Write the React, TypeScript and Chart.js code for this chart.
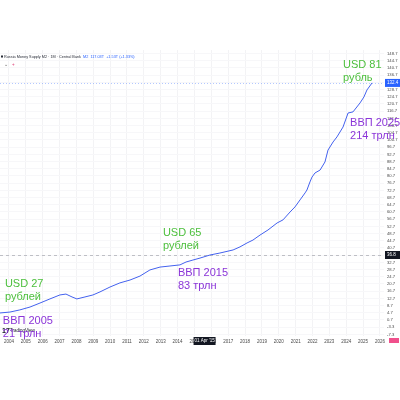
import { useEffect, useRef } from "react";
import { Chart, registerables } from "chart.js";

Chart.register(...registerables);

// Russia Money Supply M2 (trillion RUB)
const years = [
  2003.47, 2004.06, 2004.65, 2005.25, 2005.84, 2006.43, 2007.02, 2007.38, 2007.74, 2008.03,
  2008.51, 2008.98, 2009.4, 2009.99, 2010.58, 2011.18, 2011.77, 2012.36, 2012.96, 2013.55,
  2014.14, 2014.5, 2014.91, 2015.33, 2015.92, 2016.51, 2017.29, 2017.7, 2018.12, 2018.47,
  2018.89, 2019.36, 2019.9, 2020.25, 2020.67, 2020.96, 2021.26, 2021.56, 2021.67, 2021.85,
  2021.97, 2022.15, 2022.45, 2022.74, 2022.92, 2023.22, 2023.45, 2023.81, 2024.11, 2024.4,
  2024.82, 2025.05, 2025.23, 2025.53,
];
const m2 = [
  4.6, 5.1, 6.3, 7.9, 10.1, 12.4, 14.6, 15.1, 13.5, 12.4,
  13.5, 14.6, 16.3, 19.0, 21.3, 22.9, 25.1, 28.5, 30.1, 30.7,
  31.3, 32.9, 34.0, 35.1, 36.8, 37.9, 39.6, 41.3, 43.5, 45.1,
  47.9, 50.7, 54.6, 56.3, 60.7, 63.5, 67.4, 71.3, 72.9, 77.4,
  80.1, 82.4, 84.0, 88.5, 95.1, 99.6, 102.4, 107.9, 115.7, 116.3,
  121.3, 124.6, 128.5, 132.4,
];

const xTickYears = [
  2004, 2005, 2006, 2007, 2008, 2009, 2010, 2011, 2012, 2013, 2014, 2015,
  2016, 2017, 2018, 2019, 2020, 2021, 2022, 2023, 2024, 2025, 2026,
];
const yTickValues = [
  -7.3, -3.3, 0.7, 4.7, 8.7, 12.7, 16.7, 20.7, 24.7, 28.7, 32.7, 36.7, 40.7, 44.7,
  48.7, 52.7, 56.7, 60.7, 64.7, 68.7, 72.7, 76.7, 80.7, 84.7, 88.7, 92.7, 96.7,
  100.7, 104.7, 108.7, 112.7, 116.7, 120.7, 124.7, 128.7, 132.7, 136.7, 140.7,
  144.7, 148.7,
];

const crosshairYear = 2015.6;
const crosshairValue = 36.8;
const crosshairDateLabel = "01 Apr '15";

const GREEN = "#4cbf3c";
const PURPLE = "#8b35d8";

type Note = { lines: string[]; color: string; year: number; value: number };
const notes: Note[] = [
  { lines: ["USD 27", "рублей"], color: GREEN, year: 2003.76, value: 20.7 },
  { lines: ["ВВП 2005", "21 трлн"], color: PURPLE, year: 2003.64, value: 0.14 },
  { lines: ["USD 65", "рублей"], color: GREEN, year: 2013.13, value: 49.0 },
  { lines: ["ВВП 2015", "83 трлн"], color: PURPLE, year: 2014.02, value: 26.8 },
  { lines: ["USD 81", "рубль"], color: GREEN, year: 2023.81, value: 142.4 },
  { lines: ["ВВП 2025", "214 трлн"], color: PURPLE, year: 2024.23, value: 110.1 },
];

const FONT = "'Liberation Sans', Arial, sans-serif";

const overlay = {
  id: "overlay",
  beforeDatasetsDraw(chart: any) {
    const { ctx, chartArea: a, scales } = chart;
    const y = scales.y;
    ctx.save();
    // last value dotted line
    const ly = y.getPixelForValue(m2[m2.length - 1]);
    ctx.strokeStyle = "rgba(41,98,255,0.35)";
    ctx.lineWidth = 1;
    ctx.setLineDash([1, 2]);
    ctx.beginPath();
    ctx.moveTo(a.left, Math.round(ly) + 0.5);
    ctx.lineTo(a.right, Math.round(ly) + 0.5);
    ctx.stroke();
    // crosshair horizontal
    const cy = y.getPixelForValue(crosshairValue);
    ctx.strokeStyle = "rgba(120,123,134,0.45)";
    ctx.setLineDash([3, 3]);
    ctx.beginPath();
    ctx.moveTo(a.left, Math.round(cy) + 0.5);
    ctx.lineTo(a.right, Math.round(cy) + 0.5);
    ctx.stroke();
    ctx.restore();
  },
  afterDraw(chart: any) {
    const { ctx, chartArea: a, scales } = chart;
    const x = scales.x, y = scales.y;
    ctx.save();
    ctx.setLineDash([]);
    // y axis boxes
    const boxY = (val: number, bg: string, txt: string) => {
      const py = y.getPixelForValue(val);
      ctx.fillStyle = bg;
      ctx.fillRect(a.right + 1, py - 4, 16, 8);
      ctx.fillStyle = "#fff";
      ctx.font = `4.5px ${FONT}`;
      ctx.textBaseline = "middle";
      ctx.textAlign = "left";
      ctx.fillText(txt, a.right + 3, py);
    };
    boxY(m2[m2.length - 1], "#2962ff", m2[m2.length - 1].toFixed(1));
    boxY(crosshairValue, "#131722", crosshairValue.toFixed(1));
    // crosshair x box
    const cx = x.getPixelForValue(crosshairYear);
    ctx.fillStyle = "#131722";
    ctx.fillRect(cx - 11, a.bottom + 1, 22, 8);
    ctx.fillStyle = "#fff";
    ctx.textAlign = "center";
    ctx.fillText(crosshairDateLabel, cx, a.bottom + 5);
    // pink corner box
    ctx.fillStyle = "#f0508c";
    ctx.fillRect(a.right + 5, a.bottom + 2, 10, 5);

    // header
    ctx.textAlign = "left";
    ctx.textBaseline = "middle";
    ctx.fillStyle = "#2a2e39";
    ctx.fillRect(1, a.top + 5.5, 2, 2);
    ctx.font = `3.8px ${FONT}`;
    ctx.fillText("Russia Money Supply M2 · 1M · Central Bank", 4, a.top + 7);
    ctx.fillStyle = "#2962ff";
    ctx.fillText("M2  117.03T  +1.53T (+1.33%)", 83, a.top + 7);
    ctx.fillStyle = "#555";
    ctx.font = `4.5px ${FONT}`;
    ctx.fillText("⌄", 4, a.top + 15);
    ctx.fillStyle = "#e0457b";
    ctx.fillText("+", 12, a.top + 15);

    // logo
    ctx.fillStyle = "#131722";
    ctx.font = `bold 7px ${FONT}`;
    ctx.fillText("17", 2, a.bottom - 5);
    ctx.font = `4.5px ${FONT}`;
    ctx.fillText("TradingView", 10, a.bottom - 5);

    // annotations
    ctx.font = `11px ${FONT}`;
    ctx.textBaseline = "middle";
    for (const n of notes) {
      const px = x.getPixelForValue(n.year);
      const py = y.getPixelForValue(n.value);
      ctx.fillStyle = n.color;
      n.lines.forEach((t, i) => ctx.fillText(t, px, py + i * 13));
    }
    ctx.restore();
  },
};

export default function App() {
  const ref = useRef<HTMLCanvasElement>(null);
  useEffect(() => {
    if (!ref.current) return;
    const chart = new Chart(ref.current, {
      type: "line",
      data: {
        datasets: [
          {
            data: years.map((yr, i) => ({ x: yr, y: m2[i] })),
            borderColor: "#4361ee",
            borderWidth: 1,
            pointRadius: 0,
            tension: 0,
          },
        ],
      },
      options: {
        animation: false,
        responsive: false,
        devicePixelRatio: 1,
        layout: { padding: { top: 50, left: 0, right: 0, bottom: 0 } },
        plugins: { legend: { display: false }, tooltip: { enabled: false } },
        scales: {
          x: {
            type: "linear",
            min: 2003.47,
            max: 2026.24,
            afterBuildTicks: (s: any) => {
              s.ticks = xTickYears.map((v) => ({ value: v }));
            },
            afterFit: (s: any) => {
              s.height = 64;
            },
            grid: { color: "#f3f3f5", drawTicks: false },
            border: { display: false },
            ticks: {
              autoSkip: false,
              maxRotation: 0,
              padding: 3,
              color: "#4a4a4a",
              font: { size: 4.5, family: FONT },
              callback: (v: any) => String(v),
            },
          },
          y: {
            position: "right",
            min: -8.2,
            max: 150.7,
            afterBuildTicks: (s: any) => {
              s.ticks = yTickValues.map((v) => ({ value: v }));
            },
            afterFit: (s: any) => {
              s.width = 16;
            },
            grid: { color: "#f7f7f9", drawTicks: false },
            border: { display: false },
            ticks: {
              autoSkip: false,
              padding: 3,
              color: "#4a4a4a",
              font: { size: 4.2, family: FONT },
              callback: (v: any) => Number(v).toFixed(1),
            },
          },
        },
      },
      plugins: [overlay],
    });
    return () => chart.destroy();
  }, []);
  return (
    <div style={{ position: "fixed", left: 0, top: 0, width: 400, height: 400, background: "#fff" }}>
      <canvas ref={ref} width={400} height={400} style={{ display: "block" }} />
    </div>
  );
}
